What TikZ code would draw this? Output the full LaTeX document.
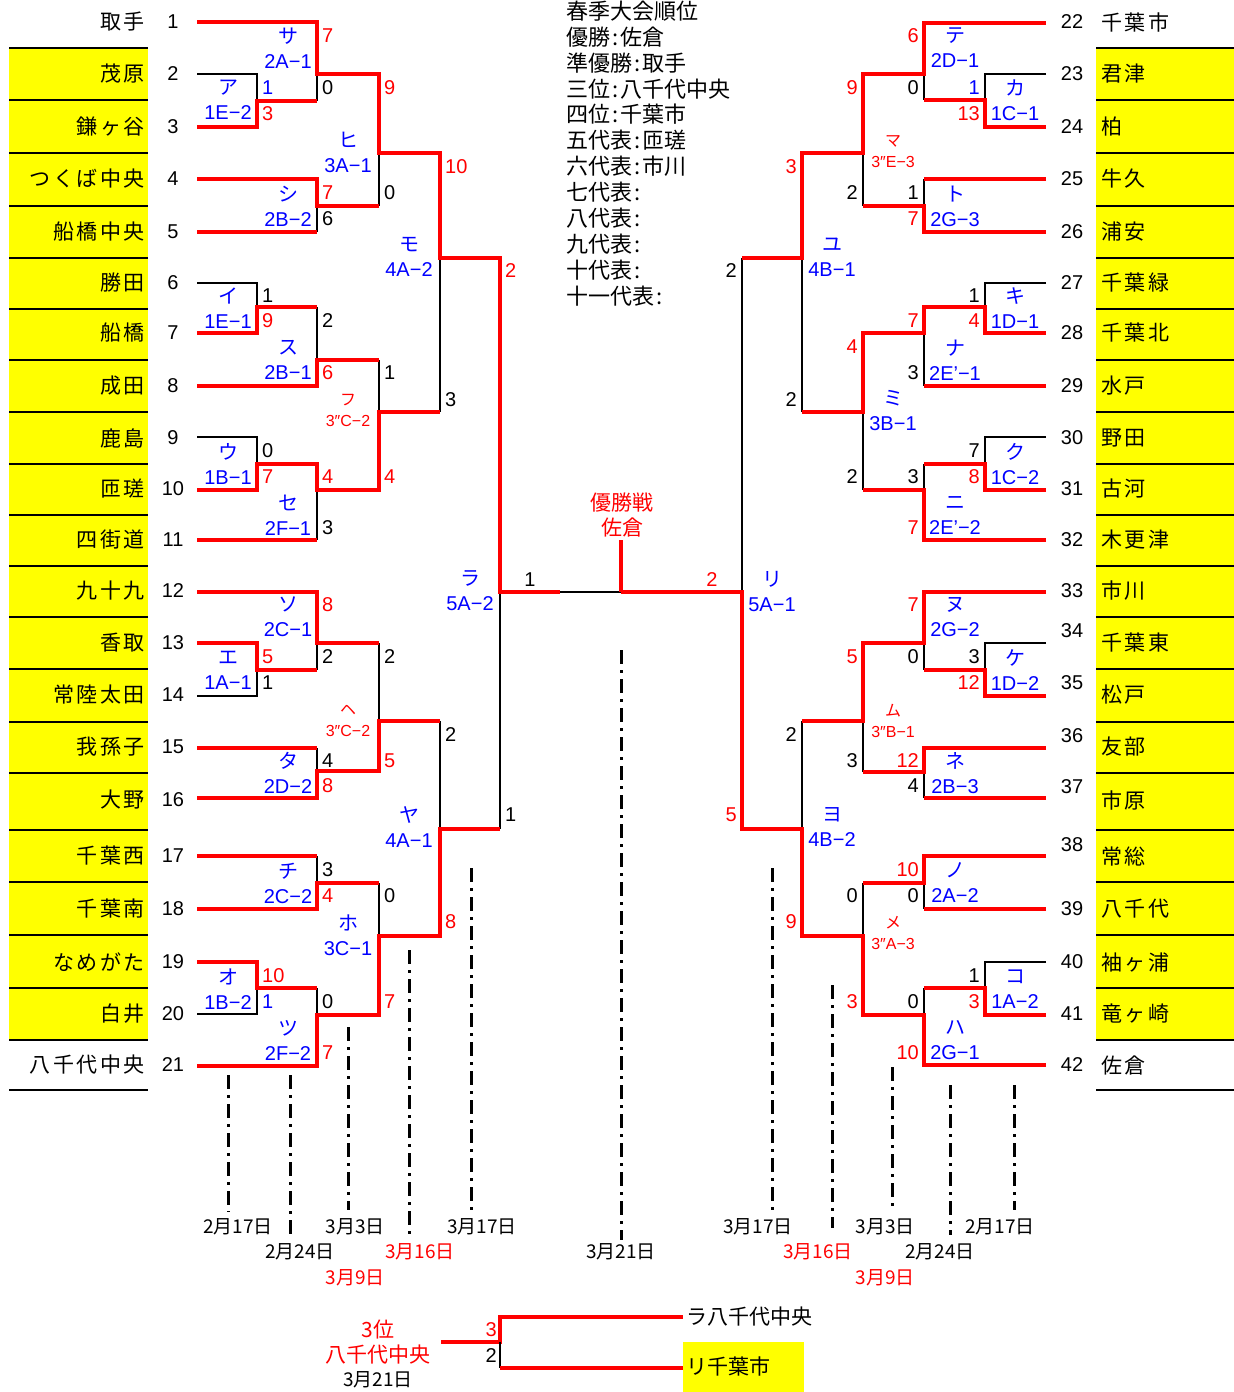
\documentclass[tikz,border=0pt]{standalone}
\usepackage{fontspec}
\setmainfont{Noto Sans CJK JP}
\newfontfamily\lsans{Liberation Sans}
\newfontfamily\namefont{Noto Sans CJK JP}[LetterSpace=12]
\usepackage{tikz}
\definecolor{sprred}{RGB}{255,0,0}
\definecolor{sprblue}{RGB}{0,0,255}
\definecolor{spryellow}{RGB}{255,255,0}
\newcommand\rkcolon{\hspace{2pt}:\hspace{2pt}}

\begin{document}
\begin{tikzpicture}[x=1pt, y=-1pt,
    win/.style={draw=sprred, line width=4pt},
    lose/.style={draw=black, line width=2.4pt},
    rowline/.style={draw=black, line width=2pt},
    dayline/.style={draw=black, line width=3pt, dash pattern=on 14pt off 6pt on 3pt off 6pt},
    team/.style={inner sep=0pt, font=\namefont\fontsize{21}{21}\selectfont},
    num/.style={inner sep=0pt, font=\lsans\fontsize{20}{20}\selectfont},
    seed/.style={inner sep=0pt, align=center, text=sprblue, font=\fontsize{20}{25}\selectfont},
    seedx/.style={inner sep=0pt, align=center, text=sprred, font=\fontsize{16}{21}\selectfont},
    day/.style={inner sep=0pt, font=\fontsize{19}{19}\selectfont},
    rank/.style={inner sep=0pt, anchor=west, font=\fontsize{22}{22}\selectfont}
]
    \useasboundingbox (0,0) rectangle (1234,1392);

    % Team name columns
    \fill[spryellow] (9,48) rectangle (148,1040);
    \fill[spryellow] (1096,48) rectangle (1234,1040);
    \foreach \y in {48,100,153,206,258,309,360,412,464,515,566,617,669,722,773,830,882,935,988,1040,1090} {
        \draw[rowline] (9,\y) -- (148,\y);
        \draw[rowline] (1096,\y) -- (1234,\y);
    }
    \foreach \y/\t [count=\i] in {22/取手,74/茂原,127/鎌ヶ谷,179/つくば中央,232/船橋中央,283/勝田,333/船橋,386/成田,438/鹿島,489/匝瑳,540/四街道,591/九十九,643/香取,695/常陸太田,747/我孫子,800/大野,856/千葉西,909/千葉南,962/なめがた,1014/白井,1065/八千代中央}
        \node[team, anchor=east] (tl\i) at (145,\y) {\t};
    \foreach \y/\t [count=\i] in {22/千葉市,74/君津,127/柏,179/牛久,232/浦安,283/千葉緑,333/千葉北,386/水戸,438/野田,489/古河,540/木更津,591/市川,643/千葉東,695/松戸,747/友部,800/市原,856/常総,909/八千代,962/袖ヶ浦,1014/竜ヶ崎,1065/佐倉}
        \node[team, anchor=west] (tr\i) at (1101,\y) {\t};

    % Draw numbers
    \foreach \y [count=\i] in {22,74,127,179,232,283,333,386,438,489,540,591,643,695,747,800,856,909,962,1014,1065}
        \node[num] (nl\i) at (173,\y) {\i};
    \foreach \n/\y in {22/22,23/74,24/127,25/179,26/232,27/283,28/333,29/386,30/438,31/489,32/540,33/591,34/631,35/683,36/736,37/787,38/845,39/909,40/962,41/1014,42/1065}
        \node[num] (nr\n) at (1072,\y) {\n};

    % Left half: losers
    \draw[lose] (197,74) -| (257,101);
    \draw[lose] (197,283) -| (257,307);
    \draw[lose] (197,437) -| (257,464);
    \draw[lose] (197,696) -| (257,670);
    \draw[lose] (197,1014) -| (257,988);
    \draw[lose] (317,74) -- (317,101);
    \draw[lose] (317,206) -- (317,232);
    \draw[lose] (317,307) -- (317,360);
    \draw[lose] (317,490) -- (317,540);
    \draw[lose] (317,643) -- (317,670);
    \draw[lose] (317,748) -- (317,771);
    \draw[lose] (317,856) -- (317,883);
    \draw[lose] (317,988) -- (317,1015);
    \draw[lose] (379,153) -- (379,206);
    \draw[lose] (379,360) -- (379,412);
    \draw[lose] (379,643) -- (379,721);
    \draw[lose] (379,883) -- (379,936);
    \draw[lose] (440,258) -- (440,412);
    \draw[lose] (440,721) -- (440,829);
    \draw[lose] (500,592) -- (500,829);

    % Left half: winners
    \draw[win] (197,22) -| (317,74) -| (379,153) -| (440,258) -| (500,592) -- (560,592);
    \draw[win] (197,127) -| (257,101) -- (317,101);
    \draw[win] (197,179) -| (317,206) -- (379,206);
    \draw[win] (197,232) -- (317,232);
    \draw[win] (197,333) -| (257,307) -- (317,307);
    \draw[win] (197,386) -| (317,360) -- (379,360);
    \draw[win] (197,490) -| (257,464) -| (317,490) -| (379,412) -- (440,412);
    \draw[win] (197,540) -- (317,540);
    \draw[win] (197,592) -| (317,643) -- (379,643);
    \draw[win] (197,643) -| (257,670) -- (317,670);
    \draw[win] (197,748) -- (317,748);
    \draw[win] (197,798) -| (317,771) -| (379,721) -- (440,721);
    \draw[win] (197,856) -- (317,856);
    \draw[win] (197,909) -| (317,883) -- (379,883);
    \draw[win] (197,962) -| (257,988) -- (317,988);
    \draw[win] (197,1066) -| (317,1015) -| (379,936) -| (440,829) -- (500,829);

    % Right half: losers
    \draw[lose] (1046,74) -| (985,100);
    \draw[lose] (1046,283) -| (985,307);
    \draw[lose] (1046,437) -| (985,464);
    \draw[lose] (1046,643) -| (985,670);
    \draw[lose] (1046,962) -| (985,988);
    \draw[lose] (924,74) -- (924,100);
    \draw[lose] (924,179) -- (924,206);
    \draw[lose] (924,333) -- (924,386);
    \draw[lose] (924,464) -- (924,490);
    \draw[lose] (924,643) -- (924,670);
    \draw[lose] (924,772) -- (924,798);
    \draw[lose] (924,883) -- (924,909);
    \draw[lose] (924,988) -- (924,1015);
    \draw[lose] (863,153) -- (863,206);
    \draw[lose] (863,412) -- (863,490);
    \draw[lose] (863,721) -- (863,772);
    \draw[lose] (863,883) -- (863,936);
    \draw[lose] (802,258) -- (802,412);
    \draw[lose] (802,721) -- (802,829);
    \draw[lose] (742,258) -- (742,592);

    % Right half: winners
    \draw[win] (1046,23) -| (924,74) -| (863,153) -| (802,258) -- (742,258);
    \draw[win] (1046,127) -| (985,100) -- (924,100);
    \draw[win] (1046,179) -- (924,179);
    \draw[win] (1046,232) -| (924,206) -- (863,206);
    \draw[win] (1046,333) -| (985,307) -| (924,333) -| (863,412) -- (802,412);
    \draw[win] (1046,386) -- (924,386);
    \draw[win] (1046,490) -| (985,464) -- (924,464);
    \draw[win] (1046,540) -| (924,490) -- (863,490);
    \draw[win] (1046,592) -| (924,643) -| (863,721) -- (802,721);
    \draw[win] (1046,696) -| (985,670) -- (924,670);
    \draw[win] (1046,748) -| (924,772) -- (863,772);
    \draw[win] (1046,798) -- (924,798);
    \draw[win] (1046,856) -| (924,883) -- (863,883);
    \draw[win] (1046,909) -- (924,909);
    \draw[win] (1046,1015) -| (985,988) -- (924,988);
    \draw[win] (1046,1065) -| (924,1015) -| (863,936) -| (802,829) -| (742,592) -- (621,592);

    % Final
    \draw[lose] (560,592) -- (621,592);
    \draw[win] (621,540) -- (621,592);
    \node[inner sep=0pt, align=center, text=sprred, font=\fontsize{21}{25}\selectfont] (final) at (622,515) {優勝戦\\佐倉};
    \node[num] (fl) at (530,580) {1};
    \node[num, text=sprred] (fr) at (712,580) {2};

    % Match labels
    \foreach \x/\y/\k/\c [count=\i] in {288/48/サ/2A−1,228/100/ア/1E−2,288/206/シ/2B−2,348/152/ヒ/3A−1,228/308/イ/1E−1,288/360/ス/2B−1,228/464/ウ/1B−1,288/515/セ/2F−1,409/257/モ/4A−2,288/617/ソ/2C−1,228/670/エ/1A−1,288/773/タ/2D−2,288/883/チ/2C−2,228/989/オ/1B−2,288/1040/ツ/2F−2,348/935/ホ/3C−1,409/827/ヤ/4A−1,470/591/ラ/5A−2,955/48/テ/2D−1,1015/100/カ/1C−1,955/206/ト/2G−3,832/257/ユ/4B−1,1015/308/キ/1D−1,955/360/ナ/2E’−1,1015/464/ク/1C−2,955/515/ニ/2E’−2,893/411/ミ/3B−1,772/591/リ/5A−1,955/617/ヌ/2G−2,1015/670/ケ/1D−2,955/773/ネ/2B−3,832/827/ヨ/4B−2,955/883/ノ/2A−2,1015/989/コ/1A−2,955/1040/ハ/2G−1}
        \node[seed] (m\i) at (\x,\y) {\k\\{\lsans\c}};
    \foreach \x/\y/\k/\c [count=\i] in {348/410/フ/3″C−2,348/721/ヘ/3″C−2,893/152/マ/3″E−3,893/721/ム/3″B−1,893/933/メ/3″A−3}
        \node[seedx] (mx\i) at (\x,\y) {\k\\{\lsans\c}};

    % Scores, left half
    \foreach \x/\y/\s [count=\i] in {317/36/7,257/114/3,317/193/7,379/88/9,257/321/9,317/373/6,257/477/7,317/477/4,379/477/4,440/167/10,257/657/5,317/605/8,317/786/8,379/761/5,317/896/4,257/976/10,317/1053/7,379/1002/7,440/922/8,500/271/2}
        \node[num, text=sprred, anchor=west] (lw\i) at (\x+5,\y) {\s};
    \foreach \x/\y/\s [count=\i] in {317/88/0,317/219/6,379/193/0,257/296/1,317/321/2,257/451/0,317/528/3,379/373/1,440/400/3,257/683/1,317/657/2,317/761/4,379/657/2,317/870/3,317/1002/0,379/896/0,440/735/2,500/815/1}
        \node[num, anchor=west] (ll\i) at (\x+5,\y) {\s};
    \foreach \x/\y/\s [count=\i] in {257/88/1,257/1002/1}
        \node[num, text=sprblue, anchor=west] (lb\i) at (\x+5,\y) {\s};

    % Scores, right half
    \foreach \x/\y/\s [count=\i] in {924/36/6,985/114/13,924/219/7,863/88/9,802/167/3,985/321/4,924/321/7,985/477/8,924/528/7,863/347/4,742/815/5,924/605/7,985/683/12,863/657/5,924/761/12,802/922/9,924/870/10,863/1002/3,985/1002/3,924/1053/10}
        \node[num, text=sprred, anchor=east] (rw\i) at (\x-5,\y) {\s};
    \foreach \x/\y/\s [count=\i] in {924/88/0,924/193/1,863/193/2,802/400/2,985/296/1,924/373/3,985/451/7,924/477/3,863/477/2,742/271/2,924/657/0,985/657/3,863/761/3,924/786/4,802/735/2,924/896/0,863/896/0,985/976/1,924/1002/0}
        \node[num, anchor=east] (rl\i) at (\x-5,\y) {\s};
    \node[num, text=sprblue, anchor=east] (rb1) at (980,88) {1};

    % Standings
    \foreach \t [count=\i] in {春季大会順位,優勝\rkcolon 佐倉,準優勝\rkcolon 取手,三位\rkcolon 八千代中央,四位\rkcolon 千葉市,五代表\rkcolon 匝瑳,六代表\rkcolon 市川,七代表\rkcolon,八代表\rkcolon,九代表\rkcolon,十代表\rkcolon,十一代表\rkcolon}
        \node[rank] (rk\i) at (566,{11+25.9*(\i-1)}) {\t};

    % Round dates
    \foreach \x/\a/\b in {228/1075/1212,290/1075/1235,348/1027/1210,409/950/1235,471/868/1212,621/650/1240,772/868/1212,832/985/1228,892/1067/1208,950/1085/1235,1014/1085/1210}
        \draw[dayline] (\x,\a) -- (\x,\b);
    \foreach \x/\y/\t [count=\i] in {238/1227/2月17日,300/1252/2月24日,355/1227/3月3日,482/1227/3月17日,621/1252/3月21日,758/1227/3月17日,885/1227/3月3日,940/1252/2月24日,1000/1227/2月17日}
        \node[day] (d\i) at (\x,\y) {\t};
    \foreach \x/\y/\t [count=\i] in {355/1278/3月9日,420/1252/3月16日,818/1252/3月16日,885/1278/3月9日}
        \node[day, text=sprred] (dr\i) at (\x,\y) {\t};

    % Third place match
    \fill[spryellow] (683,1342) rectangle (804,1392);
    \draw[win] (441,1342) -- (500,1342) -- (500,1317) -- (683,1317);
    \draw[lose] (500,1342) -- (500,1368);
    \draw[win] (500,1368) -- (683,1368);
    \node[inner sep=0pt, align=center, text=sprred, font=\fontsize{21}{25}\selectfont] (third) at (378,1342) {3位\\八千代中央};
    \node[day] (thirdday) at (378,1380) {3月21日};
    \node[num, text=sprred, anchor=east] (tw) at (497,1330) {3};
    \node[num, anchor=east] (tl) at (497,1356) {2};
    \node[inner sep=0pt, anchor=west, font=\fontsize{21}{21}\selectfont] (tra) at (686,1317) {ラ八千代中央};
    \node[inner sep=0pt, anchor=west, font=\fontsize{21}{21}\selectfont] (tri) at (686,1366) {リ千葉市};
\end{tikzpicture}
\end{document}
